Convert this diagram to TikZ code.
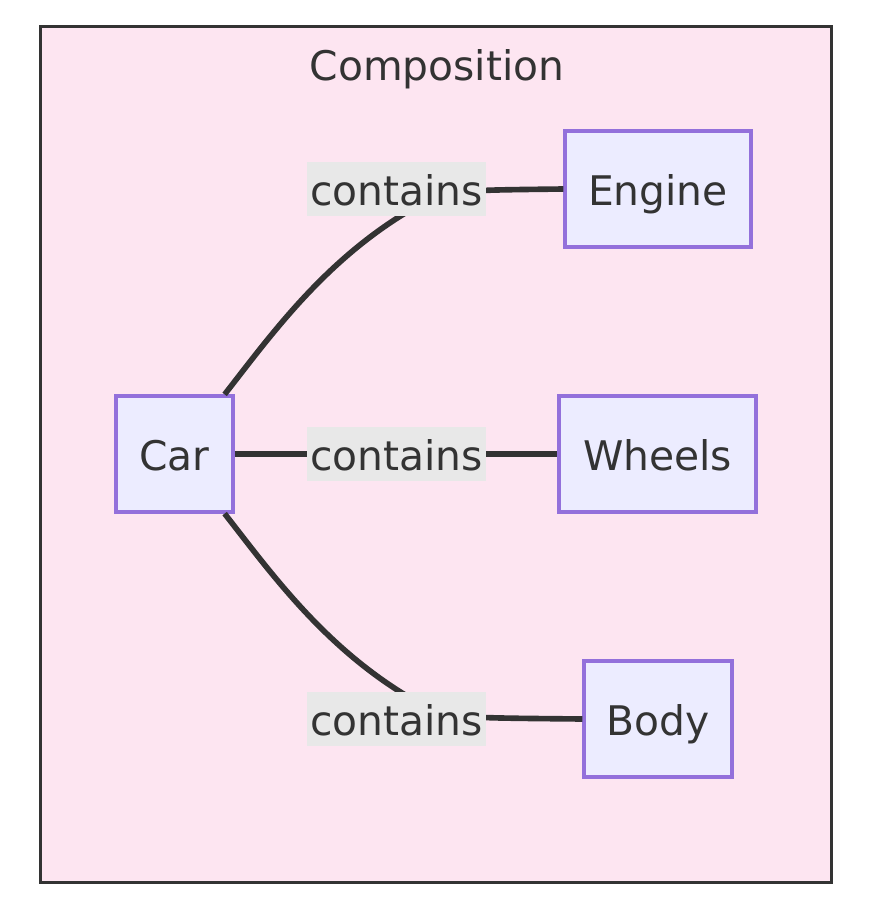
\documentclass[tikz,border=0pt]{standalone}
\usepackage{fontspec}
\setmainfont{DejaVu Sans}
\usetikzlibrary{positioning,calc}
\definecolor{clusterfill}{HTML}{FDE5F1}
\definecolor{clusterline}{HTML}{333333}
\definecolor{boxfill}{HTML}{ECECFF}
\definecolor{boxline}{HTML}{9370DB}
\definecolor{lblfill}{HTML}{E8E8E8}
\definecolor{textcol}{HTML}{333333}

\begin{document}
\begin{tikzpicture}[x=0.01cm,y=-0.01cm,
  every node/.style={font=\fontsize{11.6pt}{14pt}\selectfont, text=textcol, text height=0.33cm, text depth=0cm},
  box/.style={draw=boxline, fill=boxfill, line width=0.9pt, minimum height=1.16cm, inner sep=0pt},
  lbl/.style={fill=lblfill, minimum width=1.79cm, minimum height=0.54cm, inner sep=0pt},
  link/.style={draw=textcol, line width=1.6pt}]
  \useasboundingbox (0,0) rectangle (874,921);
  % Subgraph
  \node[draw=clusterline, fill=clusterfill, line width=0.85pt, minimum width=7.9cm, minimum height=8.55cm, inner sep=0pt] (comp) at (436,454.5) {};
  \node (title) at (437,64) {Composition};

  % Parts
  \node[box, minimum width=1.17cm] (car) at (174.5,454) {Car};
  \node[box, minimum width=1.86cm] (engine) at (658,189) {Engine};
  \node[box, minimum width=1.97cm] (wheels) at (657.5,454) {Wheels};
  \node[box, minimum width=1.48cm] (body) at (658,719) {Body};

  % Links
  \draw[link] ($(car.north east)+(-10,0)$) .. controls (275,330) and (335,245) .. (440,194) .. controls (480,190) .. (engine.west);
  \draw[link] (car.east) -- (wheels.west);
  \draw[link] ($(car.south east)+(-10,0)$) .. controls (275,578) and (335,663) .. (440,714) .. controls (480,718) .. (body.west);

  % Labels
  \node[lbl] (lblengine) at (396.5,189) {contains};
  \node[lbl] (lblwheels) at (396.5,454) {contains};
  \node[lbl] (lblbody) at (396.5,719) {contains};
\end{tikzpicture}
\end{document}
